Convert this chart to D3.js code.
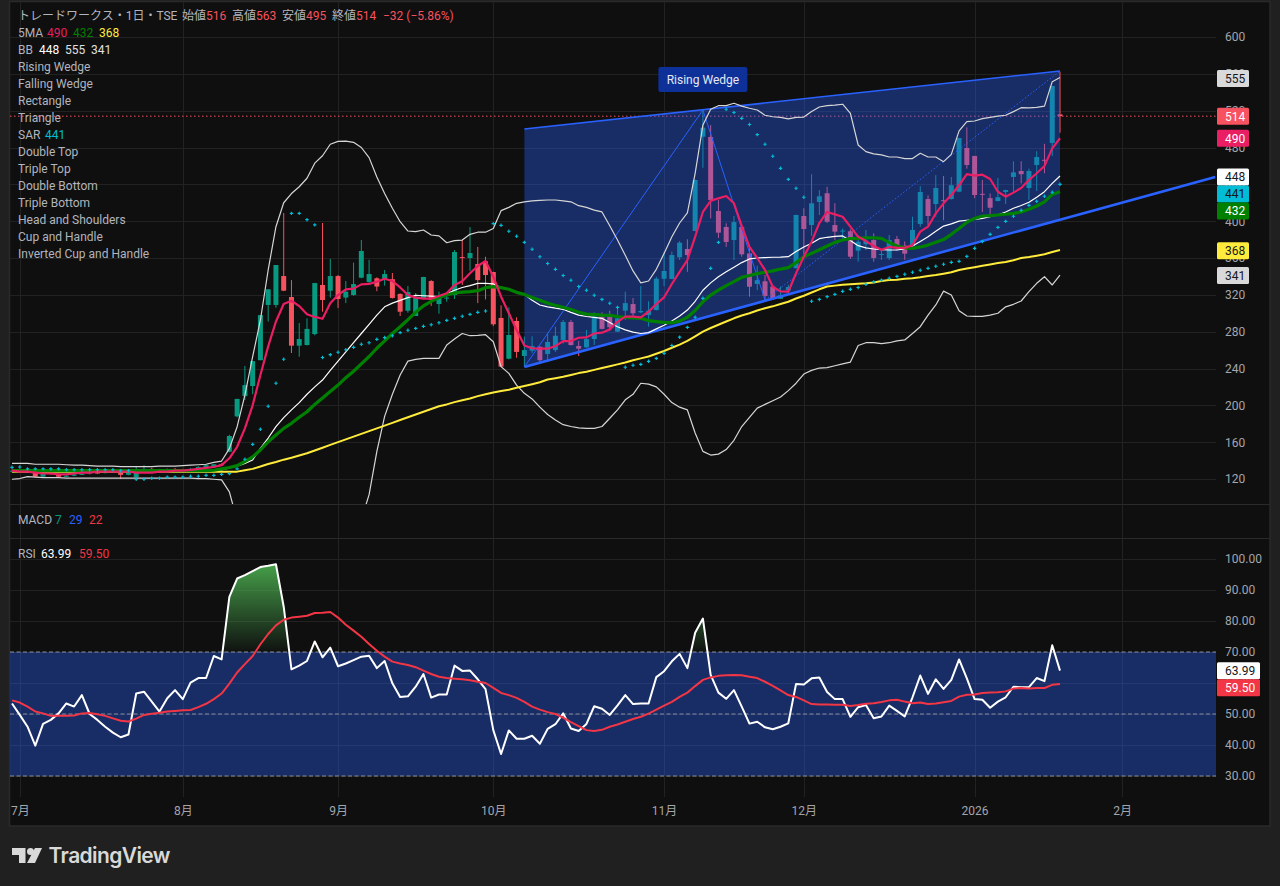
<!DOCTYPE html>
<html>
<head>
<meta charset="utf-8">
<script src="https://d3js.org/d3.v7.min.js"></script>
<style>
html, body { margin: 0; background: #202020; overflow: hidden; }
text { font-family: Roboto, "Noto Sans CJK JP", sans-serif; }
.axis .domain, .axis .tick line { display: none; }
</style>
</head>
<body>
<div id="chart"></div>
<script>
// daily candles, one value per bar
const opens = [
128,129,128,127.5,122.5,126.5,125.5,122.5,123.5,125,
126,127,126.5,127.5,128,124.5,122,130,131,129.5,
130,130.5,130,129.5,131,133,133,136,149.6,188,
210,221,249,309,309,340.4,317.6,264.8,265.5,277.4,
330.7,324.5,340.4,317,319.8,338.6,334,338,337,337,
321,302.7,297,315.5,335,310,316,319.8,361,360,
353.5,356.4,344.8,294.9,250.6,291.6,253.6,259.3,263.7,255.8,
260,271,290.5,264.4,263,272,296.3,299,280,302.8,
310,301,298,303.5,337.5,337.2,360.8,369.8,389.3,491.7,
491.4,411,393.7,379.5,393.7,365,331.8,334.7,329,315.8,
325,349,405.6,395.8,420.8,430.3,395.8,389.2,389,368,
374.9,379.5,363.8,360,380.6,373.4,373,397,424,418.6,
422.8,424,432,479.5,470.8,429.7,425,421.9,431.7,448,
454.5,436,461,466.6,484.9,516]
const closes = [
129,128,127.5,122.5,126.5,125.5,122.5,123.5,125,125.5,
127,126.5,127.5,128,124.5,127,130,131,129.5,130,
130.5,130,129.5,131,133,135,136,135,166.7,207,
222,248,298,326,352.4,324.5,264.8,272,283,332.8,
314.4,340.4,315.5,323.4,331.7,367.6,342.6,329,342.6,316.6,
301.7,323,318,339.4,314.4,318,317,366.5,360.5,365.4,
336,341.5,288,242,276.4,258,260,264.4,249,268.8,
275.6,290.5,265.5,261.5,272,296.3,283,284.8,294.5,311,
300,302.4,302.8,337.5,345.9,363.2,376.6,363.2,444.7,501.5,
423,387.5,377.4,399,364,328.8,336,318.7,315.5,319.5,
328.5,406.7,391.5,419.4,427,399.4,388.6,389.8,361.4,377.7,
378.8,360,364.3,379.5,371.6,364.7,390.4,431.7,405.6,436,
422.4,439,490.3,461,428.4,429.3,414.6,426,433.8,453,
451,454.5,469.7,466.2,546.8,514]
const highs = [
130.5,130,129,128,127,127.5,126,125,126,127,
128,128,128.5,129,128.5,128,133,135,132,131,
131.5,132,131,132,134,136,136,137,168,207,
242.7,248,298,326,352.4,408.9,336,289.4,294.5,333,
398,359,341.5,335,355,379.6,358,339,347,343.7,
321.5,329.6,322,339.5,336,323.4,323,368.7,379.6,393.6,
372,361.4,345,308.6,306.4,295.6,274.6,275,264,278,
285.4,292.7,292.7,270,282,301,301,302.8,307,323.4,
316.5,329.6,313,339.7,367,367,378.4,380.3,445,520.7,
504.4,423,397.7,405.6,394,370.9,351.6,341.5,331,329,
331,407,414,451,433.8,437.4,419.4,392,391,385,
390.4,386.8,369,385,384,378,404.8,438,428,450,
449,448,490.5,502,471,444.7,430,447,434,465,
465,457,476,484,547,562.3]
const lows = [
127,127,126.5,122,122,124.5,122,122,123,124.5,
125,125.5,126,127,120,124,121.5,129,128.5,129,
129,129.5,129,129,130.5,132,132.5,134,149,187,
205.8,212,249,291,306,324,256.8,252.8,265,276,
301.7,317,305.6,311,319,338,333,324,330,316,
297,300.6,297,315,308,299.5,312.5,315.5,330.7,346,
311,315,286,242,250,251.7,242,257,245.6,247,
258,267,265,253.6,262.5,265.5,282.5,281,279.5,292.7,
296.3,300,285.4,303,329.6,337,357.8,345,389,458,
403,381.7,372,357.8,361.4,318,325,314.4,314.4,315.5,
322,348.5,364,384,406.7,398,379.5,379.5,358.9,356,
368.7,356,357.8,357.8,368,358,372.5,394,395.8,404.8,
401,423.5,431.5,457,425,410,404.8,421.5,418.6,430.6,
441,423,432.8,452,470.8,496]

const ma5 = [
129,128,128,127,126,126,125,125,126,127,
127,128,128,128,128,128,127,127,127,128,
128,129,129,130,131,132,133,135,142.5,155,
175,200,233,264,291,310,313.6,307.8,299,296,
294,310.8,319.8,326,326.7,331.4,331.8,334.3,337.5,335,
328,319.8,317,315.8,315.8,318.7,321.7,330.7,334.7,343.4,
351.3,356.7,339.7,318,300,281.8,265,262,261.5,261.5,
264.4,269.8,269.8,273.4,273.8,278,278.9,282.5,290.8,296.3,
296.3,295.6,301.7,310,317.3,331.8,345,357.8,383,410,
422,424.8,427.3,419.4,395,372,360,347,328.8,323.8,
323.4,343.4,361.4,377.7,398,410,407.4,404.8,394,383,
378.4,373,369,372,371,371,374,388.6,394,408.5,
419.4,428.4,439,451,449.4,450.5,445.8,432,426.6,431,
436,444.7,452,459.9,479,490]
const ma25 = [
129,129,129,129,129,129,129,129,129,129,
129,129,129,129,129,129,129,129,129,129,
129,129,129,129,129,129,129.5,131,132.5,134.5,
139,144,151.5,160.5,167.8,175,180.5,187,193,201,
208,215,222,230,237,245,253,262,270,278,
285.4,293,301,308,313,317,320,322,323,323.4,
324.5,327.8,329,327.8,326,322.7,320.5,317,314,311,
308.5,306.4,304,301,299,298.5,298,297.7,296.5,295.5,
295,294.5,292,291,290,289.8,291.5,295.6,303,312.5,
319.8,325,330,334.3,339,341,343,344.5,346,348,
349.5,355,361.4,365,369,373,377,379.5,381,381.4,
382,382,381.4,377,373,371,370.5,372,374,377,
380,385.7,392,398.8,403,405.6,406,406.7,407.5,408.5,
410,413,416.5,421,429,432]
const ma75 = [
128,128,128,128,128,128,128,128,128,128,
128,128,128,128,128,128,128,128,128,128,
128,128,128,128,128,128,128,128,128,128,
129.5,131,133.5,136.3,138.5,141,143,145.5,148,151,
154,157,160,163,166,169,172,175,178,181,
184,187,190,193,196,199,201,203.5,205.5,207.5,
210,212,214,215.5,217,219,221,223,225,228,
229.5,231,233,235,236.5,238.5,240.5,242.5,244.5,246.5,
249,251,253,256,259,262.5,266,270,275,280,
284,287.5,291,294.5,297.5,300,303,305.4,307.5,310,
312.5,316,319,322.5,326,329,330,331,331.5,332,
332.5,333.5,335,336,336.5,337.5,338,339,340.5,341.5,
343,344.5,347,348.5,350,351.5,353,354.5,355.6,357.5,
360,361,362.5,364,366.5,368.7]

const bbUpper = [
137,137,137,136,136,136,136,135.5,135,135,
134.5,134,134,134,133.5,133.5,133.5,133.5,133.5,134,
134,134,134.5,135,135.5,136,138,139.5,153,176.8,
211,252.8,292.7,347,394,420,430,437.4,446.6,463,
471,483.5,486.7,487,485.6,480,469,448,430,414,
399.4,389.3,388.6,390.4,385,384,376.6,378.8,379.5,385.7,
388,388,392,411.4,415,419.4,421,422,422.6,423,
423,422,421,416.8,415,412,410,395,379.5,363,
346,333,335,347.7,365,383,398,409,452,504.4,
521.5,525.4,525.4,528,525,522.6,520.7,515,513.4,512.8,
511,512.8,513,519,524,525.4,526,527,517,482.7,
475.5,473,472,469.7,469.7,468,468,473.7,469.7,469.7,
464.6,472.6,498,508,508.8,511.3,512.8,514,515,519,
523.2,523,523.6,525,551.5,556]
const bbMid = [
128,128,128,128,128,128,128,128,128,128,
128,128,128,128,128,128,128,128,128,128,
128,128,128,128,128,128,129,130,132,134,
137,140.6,153.4,164.5,176.8,186.6,195,203,212,220,
227.5,238,248,258,268,278,288,298,307,311,
314,317,319.5,319,318.5,318,321,325,328,330,
332.5,332.5,331.8,328,326,322,320.5,314,309,307,
305.5,304.3,301,298,296.5,295.5,294.5,290,285.4,282,
279.5,278,279,283,287,291.6,297,303.5,313,325,
333,339.7,345,350,355,359,360,360.5,360.8,361,
361.4,367,372,376,381,382.5,383.5,384,379,373.4,
371,369.8,369,368.7,368.7,370,373,378,383,389,
394.7,397,400,401,402,403,405,406.7,410,414,
417,420.5,426,432,441,449]
const bbLower = [
119.7,120.5,122.5,122,121.5,121.5,121.5,121,121,121,
121,121,121,121,121,121,121,121,121,121,
121,121,121,121,120.5,120.5,119.7,119,106,75,
60,30,14,-18,-40,-47,-40,-31,-23,-23,
-16,-7,9,29,50,76,103,150,188,212,
233,248,250,251,251,251,265.5,272,278,275.6,
276,276.7,269,242,234.7,222,213,207,198,190,
184,179,177,175.5,175,175,177,186,195,206,
212,224,223,220,212,203,198,195,170,150,
146,147,152,162,177,187,197,201,205,209,
216,224,234,238,240.5,241,243,245,247,265,
268,268,267,268,270,271,278,285.4,298,309,
324,319.8,302.8,297,296.7,296.7,298,300,307,309.7,
313.3,323.4,332.5,339.7,330.7,341.5]

const sar = [
132.7,133,131,131,131,131,131,130,130,130,
130,130,130,130,129,129,119.7,119.7,120.8,120.8,
122,122,122,123,123,124,124,125,125.8,131,
141.4,157.6,174,199,224,250,408.5,408.5,401.6,396,
252,255,257.6,260.4,263,266.3,268,271.7,273.6,275.6,
279,281.5,283.6,285.8,287.5,289.7,292.3,294.5,296.7,298.8,
301,302.4,397.3,395.5,389,383.6,377,369.5,361.4,354,
347.7,341,335.8,329,325,319.5,315,310.8,306.4,241.3,
243.5,244.5,247.8,251,256.5,265,274,284.7,295.6,316.2,
348.8,377,521.5,518,511.7,505,494,483.5,470.5,457.4,
445.4,435.7,426,313,315,318,320.5,323.8,326,328,
331.4,334,336,338,340,342.3,344.5,346.7,348.8,351,
353.2,355.3,356.4,361.8,370.5,378,385.7,393.3,399.8,405.3,
411.8,417.2,421.6,427,431.4,440]

const rsi = [
53.4,49.7,45.9,39.8,46.8,48.1,50.2,53.4,52.4,56.1,
50,48.1,45.9,44,42.5,43.4,56.6,57.2,54,50.8,
55.1,57.7,54.8,60.1,61.6,61.6,68.7,67.6,87.8,93.7,
94.8,96.1,97.4,97.8,98.3,84.6,64.4,65.6,67.1,73.4,
68.3,71.4,65.4,66.3,67.4,68.5,68.8,64.8,67.1,59.9,
55.5,55.7,58.8,62.9,55.3,56.3,56.3,65.6,63.9,64,
61.2,58,44.8,37.1,44.7,42,42,43,40.4,45.2,
46.7,50.2,45.3,44.5,46.8,52.5,51.7,49.7,52.8,56.1,
53.2,53.4,53.4,61.9,63.8,67,69.4,64.8,76.2,80.8,
62.6,56.9,54.9,57.7,52.4,46.9,47.5,45.7,45.1,45.9,
47,59.7,59.5,61.5,61.8,57.1,54.8,54.8,49.1,52.2,
52.9,48.6,49.2,52.7,51,49.2,55.4,62.4,56.5,61.2,
58.1,61,67.6,61.5,54.8,54.6,52,54,55.4,58.8,
58.6,58.7,61.6,60.6,72.2,64]
const rsiMa = [
54.4,53.7,52.4,50.8,50.2,49.4,49.4,49.4,49.5,50.2,
50.3,49.9,49.4,48.6,47.8,47.6,48.5,49.7,50.1,50.4,
50.8,51,51.2,51.3,52.2,53.3,54.8,56.6,59.8,63.4,
66.1,68.7,72.5,75.8,78.6,80.4,81.1,81.4,81.7,82.6,
82.7,82.9,81.1,78.8,76.9,74.9,72.6,70.4,68.5,66.9,
66.3,65.8,65.1,64,62.9,62,61.6,61.4,61.2,60.9,
60.4,60,58.4,56.8,56.1,55.2,53.9,52.4,51.4,50.6,
50,48.8,47.4,46.1,44.8,44.5,44.9,45.9,46.6,47.5,
48.4,49.1,50.1,51.4,52.7,53.9,55.5,56.9,59,61,
61.8,62.3,62.5,62.6,62.5,62,61.6,60.4,59.1,57.6,
56.1,55.5,54.4,53.2,53.1,53.1,53,53,52.6,52.9,
53.3,53.5,53.9,54.4,54.6,54,53.5,53.7,53.2,53.4,
53.8,54.2,55.6,56.2,56.3,56.8,56.9,57,57.3,58.2,
58.4,58.2,58.4,58.4,59.4,59.7]

// wedge pattern, [bar, price]
const wedgeTop = [[66, 500], [135, 563]]
const wedgeBottom = [[66, 241.6], [135, 401]]
const wedgeExtension = [[66, 241.6], [155, 448]]
const zigzag = [[66, 241.6], [89, 520.7], [97, 314.4]]
const zigzagLast = [[97, 314.4], [135, 563]]

const priceTicks = [600,560,520,480,440,400,360,320,280,240,200,160,120]
const rsiTicks = [100,90,80,70,60,50,40,30]
const monthBars = [1,22,42,62,84,102,124,143]
const monthLabels = ["7月","8月","9月","10月","11月","12月","2026","2月"]
const patternNames = ["Rising Wedge","Falling Wedge","Rectangle","Triangle"]
const patternNames2 = ["Double Top","Triple Top","Double Bottom","Triple Bottom","Head and Shoulders","Cup and Handle","Inverted Cup and Handle"]

const upColor = "#089981", downColor = "#f7525f"
const gridColor = "#222222", axisText = "#a3a6ad", legendText = "#b2b5be"
const bandFill = "rgba(41,98,255,0.36)"

const left = 10, right = 1216, frameRight = 1270
const paneTop = 2, paneBottom = 504, macdBottom = 538, frameBottom = 826, gridBottom = 797

const svg = d3.select("#chart").append("svg")
    .attr("width", 1280)
    .attr("height", 886)
    .style("display", "block")

const x = d3.scaleLinear().domain([0, 135]).range([12, 1060])
const y = d3.scaleLinear().domain([120, 600]).range([479, 37])
const yRsi = d3.scaleLinear().domain([30, 100]).range([776, 559])

const defs = svg.append("defs")
defs.append("clipPath").attr("id", "main-clip").append("rect")
    .attr("x", left).attr("y", paneTop).attr("width", right - left).attr("height", paneBottom - paneTop)
defs.append("clipPath").attr("id", "over-clip").append("rect")
    .attr("x", left).attr("y", yRsi(100) - 5).attr("width", right - left).attr("height", yRsi(70) - yRsi(100) + 5)
const grad = defs.append("linearGradient").attr("id", "over-grad")
    .attr("gradientUnits", "userSpaceOnUse")
    .attr("x1", 0).attr("x2", 0).attr("y1", yRsi(100)).attr("y2", yRsi(70))
grad.append("stop").attr("offset", "0%").attr("stop-color", "#4caf50").attr("stop-opacity", 0.95)
grad.append("stop").attr("offset", "100%").attr("stop-color", "#4caf50").attr("stop-opacity", 0.02)

// frame and pane backgrounds
svg.append("rect").attr("width", 1280).attr("height", 886).attr("fill", "#202020")
svg.append("rect")
    .attr("x", left - 0.5).attr("y", 1.5)
    .attr("width", frameRight - left + 0.5).attr("height", frameBottom - 1.5)
    .attr("fill", "#0f0f0f").attr("stroke", "#2a2a2a").attr("stroke-width", 1.5)

// grid
const grid = svg.append("g").attr("stroke", gridColor).attr("stroke-width", 1).attr("shape-rendering", "crispEdges")
grid.selectAll(".gx").data(monthBars).join("line")
    .attr("x1", d => Math.round(x(d)) + 0.5).attr("x2", d => Math.round(x(d)) + 0.5)
    .attr("y1", paneTop).attr("y2", gridBottom)
grid.selectAll(".gy").data(priceTicks).join("line")
    .attr("x1", left).attr("x2", right)
    .attr("y1", d => Math.round(y(d)) + 0.5).attr("y2", d => Math.round(y(d)) + 0.5)
grid.selectAll(".gr").data(rsiTicks).join("line")
    .attr("x1", left).attr("x2", right)
    .attr("y1", d => Math.round(yRsi(d)) + 0.5).attr("y2", d => Math.round(yRsi(d)) + 0.5)

// pane separators
svg.selectAll(".sep").data([paneBottom, macdBottom]).join("line")
    .attr("x1", left).attr("x2", frameRight)
    .attr("y1", d => d + 0.5).attr("y2", d => d + 0.5)
    .attr("stroke", "#2a2a2a")

const main = svg.append("g").attr("clip-path", "url(#main-clip)")

// last price line
main.append("line")
    .attr("x1", left).attr("x2", right)
    .attr("y1", y(514)).attr("y2", y(514))
    .attr("stroke", downColor).attr("stroke-dasharray", "1.5,2.5")

// candles
const bars = d3.range(closes.length)
const barColor = i => closes[i] >= opens[i] ? upColor : downColor
main.append("g").selectAll("line").data(bars).join("line")
    .attr("x1", i => x(i)).attr("x2", i => x(i))
    .attr("y1", i => y(highs[i])).attr("y2", i => y(lows[i]))
    .attr("stroke", barColor).attr("stroke-width", 1)
main.append("g").selectAll("rect").data(bars).join("rect")
    .attr("x", i => x(i) - 2.5).attr("width", 5)
    .attr("y", i => y(Math.max(opens[i], closes[i])))
    .attr("height", i => Math.max(1, Math.abs(y(opens[i]) - y(closes[i]))))
    .attr("fill", barColor)

// wedge
const pt = d3.line().x(d => x(d[0])).y(d => y(d[1]))
main.append("path")
    .attr("d", pt([wedgeTop[0], wedgeTop[1], wedgeBottom[1], wedgeBottom[0]]) + "Z")
    .attr("fill", bandFill)
const patternLines = [
    {pts: wedgeTop, w: 1.5},
    {pts: wedgeExtension, w: 2.6},
    {pts: zigzag, w: 1},
    {pts: zigzagLast, w: 1, dash: "1.5,2"}
]
main.selectAll(".pat").data(patternLines).join("path")
    .attr("d", d => pt(d.pts))
    .attr("fill", "none").attr("stroke", "#2962ff")
    .attr("stroke-width", d => d.w)
    .attr("stroke-dasharray", d => d.dash || null)

// moving averages and bands
const seriesLine = d3.line().x((d, i) => x(i)).y(d => y(d))
const lineSeries = [
    {values: bbUpper, color: "#d6d6d6", w: 1.2},
    {values: bbLower, color: "#d6d6d6", w: 1.2},
    {values: bbMid, color: "#ffffff", w: 1.2},
    {values: ma75, color: "#ffeb3b", w: 2},
    {values: ma25, color: "#008000", w: 3.2},
    {values: ma5, color: "#e91e63", w: 2.2}
]
main.selectAll(".series").data(lineSeries).join("path")
    .attr("d", d => seriesLine(d.values))
    .attr("fill", "none")
    .attr("stroke", d => d.color)
    .attr("stroke-width", d => d.w)
    .attr("stroke-linejoin", "round")

// parabolic SAR
const cross = d3.symbol().type(d3.symbolCross).size(6.5)
main.append("g").selectAll("path").data(sar).join("path")
    .attr("d", cross)
    .attr("transform", (d, i) => `translate(${x(i)},${y(d)})`)
    .attr("fill", "#00bcd4")

// pattern name tag
const tag = svg.append("g").attr("transform", `translate(${x(89)},${y(553.8)})`)
tag.append("rect")
    .attr("x", -44.5).attr("y", -12.5).attr("width", 89).attr("height", 25).attr("rx", 2)
    .attr("fill", "#0d3099")
tag.append("text")
    .attr("text-anchor", "middle").attr("y", 4)
    .attr("font-size", 12).attr("fill", "#e6e9f5")
    .text("Rising Wedge")

// RSI pane
svg.append("rect")
    .attr("x", left).attr("width", right - left)
    .attr("y", yRsi(70)).attr("height", yRsi(30) - yRsi(70))
    .attr("fill", bandFill)
svg.append("g").selectAll("line").data([70, 50, 30]).join("line")
    .attr("x1", left).attr("x2", right)
    .attr("y1", d => yRsi(d)).attr("y2", d => yRsi(d))
    .attr("stroke", "#8b8e96").attr("stroke-dasharray", "4,2.5")

svg.append("path")
    .attr("clip-path", "url(#over-clip)")
    .attr("d", d3.area().x((d, i) => x(i)).y0(yRsi(70)).y1(d => yRsi(d))(rsi))
    .attr("fill", "url(#over-grad)")

const rsiLine = d3.line().x((d, i) => x(i)).y(d => yRsi(d))
svg.append("path").attr("d", rsiLine(rsi))
    .attr("fill", "none").attr("stroke", "#ffffff").attr("stroke-width", 2).attr("stroke-linejoin", "round")
svg.append("path").attr("d", rsiLine(rsiMa))
    .attr("fill", "none").attr("stroke", "#f23645").attr("stroke-width", 2).attr("stroke-linejoin", "round")

// axes
const priceAxis = svg.append("g").attr("class", "axis")
    .attr("transform", `translate(${right},0)`)
    .call(d3.axisRight(y).tickValues(priceTicks).tickSize(0).tickPadding(9))
const rsiAxis = svg.append("g").attr("class", "axis")
    .attr("transform", `translate(${right},0)`)
    .call(d3.axisRight(yRsi).tickValues(rsiTicks).tickSize(0).tickPadding(9).tickFormat(d3.format(".2f")))
const timeAxis = svg.append("g").attr("class", "axis")
    .attr("transform", "translate(0,806)")
    .call(d3.axisBottom(x).tickValues(monthBars).tickSize(0).tickPadding(0)
        .tickFormat((d, i) => monthLabels[i]))
svg.selectAll(".axis text")
    .attr("font-size", 12).attr("fill", axisText)
    .style("font-family", 'Roboto, "Noto Sans CJK JP", sans-serif')

// last value tags, pushed apart when they overlap
const tagH = 17
const priceTags = [
    {v: 555, fill: "#d9d9d9", ink: "#131722"},
    {v: 514, fill: "#f7525f", ink: "#ffffff"},
    {v: 490, fill: "#e91e63", ink: "#ffffff"},
    {v: 448, fill: "#ffffff", ink: "#131722"},
    {v: 441, fill: "#00bcd4", ink: "#131722"},
    {v: 432, fill: "#008000", ink: "#ffffff"},
    {v: 368, fill: "#ffeb3b", ink: "#131722"},
    {v: 341, fill: "#d9d9d9", ink: "#131722"}
]
let lastY = -100
priceTags.forEach(d => {
    d.cy = Math.max(y(d.v), lastY + tagH)
    lastY = d.cy
})
const pTag = svg.append("g").selectAll("g").data(priceTags).join("g")
    .attr("transform", d => `translate(${right + 1},${d.cy})`)
pTag.append("rect").attr("y", -tagH / 2).attr("width", 32).attr("height", tagH).attr("rx", 1.5).attr("fill", d => d.fill)
pTag.append("text").attr("x", 8).attr("y", 4.5).attr("font-size", 12).attr("fill", d => d.ink).text(d => d.v)

const rsiTags = [
    {v: 63.99, fill: "#ffffff", ink: "#131722"},
    {v: 59.50, fill: "#f23645", ink: "#ffffff"}
]
lastY = -100
rsiTags.forEach(d => {
    d.cy = Math.max(yRsi(d.v), lastY + tagH)
    lastY = d.cy
})
const rTag = svg.append("g").selectAll("g").data(rsiTags).join("g")
    .attr("transform", d => `translate(${right + 1},${d.cy})`)
rTag.append("rect").attr("y", -tagH / 2).attr("width", 43).attr("height", tagH).attr("rx", 1.5).attr("fill", d => d.fill)
rTag.append("text").attr("x", 8).attr("y", 4.5).attr("font-size", 12).attr("fill", d => d.ink).text(d => d.v.toFixed(2))

// legends
const label = svg.append("g").attr("font-size", 12)
function put(px, py, str, color) {
    label.append("text").attr("x", px).attr("y", py).attr("fill", color || legendText).text(str)
}
put(18, 20, "トレードワークス・1日・TSE")
const ohlc = [[182, "始値", 206, "516"], [232, "高値", 256, "563"], [282, "安値", 306, "495"], [332, "終値", 356, "514"]]
ohlc.forEach(d => {
    put(d[0], 20, d[1])
    put(d[2], 20, d[3], downColor)
})
put(383, 20, "−32 (−5.86%)", downColor)

put(18, 37, "5MA")
put(47, 37, "490", "#e91e63")
put(73, 37, "432", "#008000")
put(99, 37, "368", "#ffeb3b")
put(18, 54, "BB")
put(39, 54, "448", "#ffffff")
put(65, 54, "555", "#e0e0e0")
put(91, 54, "341", "#e0e0e0")
patternNames.forEach((d, i) => put(18, 71 + i * 17, d))
put(18, 139, "SAR")
put(45, 139, "441", "#00bcd4")
patternNames2.forEach((d, i) => put(18, 156 + i * 17, d))

put(18, 524, "MACD")
put(55, 524, "7", upColor)
put(69, 524, "29", "#2962ff")
put(89, 524, "22", "#f23645")
put(18, 558, "RSI")
put(41, 558, "63.99", "#ffffff")
put(79, 558, "59.50", "#f23645")

// logo
const logo = svg.append("g").attr("fill", "#d9d9d9")
logo.append("path").attr("d", "M12,848H25.5V863H19V855H12Z")
logo.append("circle").attr("cx", 30.5).attr("cy", 851.5).attr("r", 3.5)
logo.append("path").attr("d", "M35,848H42L35,863H27Z")
logo.append("text").attr("x", 48.5).attr("y", 863)
    .attr("font-size", 21).attr("font-weight", 600)
    .style("font-family", "Inter, sans-serif")
    .attr("textLength", 122)
    .text("TradingView")
</script>
</body>
</html>
